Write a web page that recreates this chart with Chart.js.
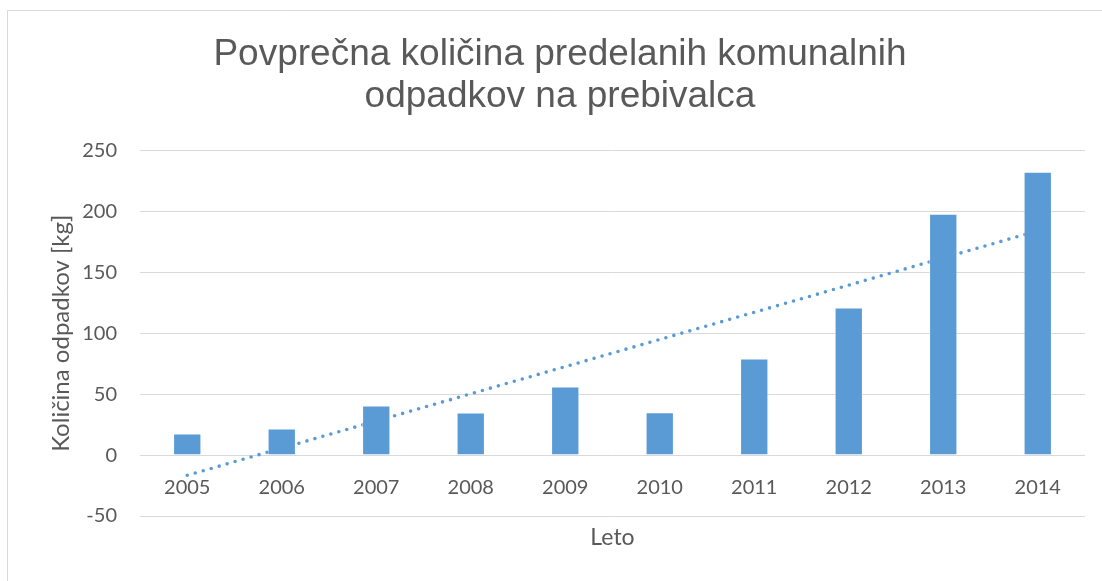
<!DOCTYPE html>
<html>
<head>
<meta charset="utf-8">
<script src="https://cdn.jsdelivr.net/npm/chart.js@4"></script>
<style>
  body { margin: 0; background: #fff; }
</style>
</head>
<body>
<canvas id="wasteChart" width="1102" height="581"></canvas>
<script>
// data
const years = ["2005", "2006", "2007", "2008", "2009", "2010", "2011", "2012", "2013", "2014"];
const wastePerCapita = [17.8, 21.9, 40.7, 35.0, 56.3, 35.2, 79.3, 121.1, 198.1, 232.5];
const trendValues = [-16.6, 5.7, 28.0, 50.3, 72.6, 94.9, 117.2, 139.5, 161.8, 184.1];
const yMin = -50;
const yMax = 250;
const yStep = 50;

const textColor = "#595959";
const barColor = "#5B9BD5";

// light frame round the chart, like the office chart border
const framePlugin = {
  id: "frame",
  beforeDraw(chart) {
    const c = chart.ctx;
    c.save();
    c.fillStyle = "#fff";
    c.fillRect(0, 0, chart.width, chart.height);
    c.strokeStyle = "#d9d9d9";
    c.lineWidth = 1;
    c.beginPath();
    c.moveTo(7.5, chart.height);
    c.lineTo(7.5, 10.5);
    c.lineTo(chart.width, 10.5);
    c.stroke();
    c.restore();
  },
};

window.onload = function () {
  const ctx = document.getElementById("wasteChart").getContext("2d");
  new Chart(ctx, {
    type: "bar",
    data: {
      labels: years,
      datasets: [
        {
          label: "Količina",
          data: wastePerCapita,
          backgroundColor: barColor,
          borderColor: "rgba(255,255,255,0.45)",
          borderWidth: 1,
          categoryPercentage: 1,
          barPercentage: 0.3,
          order: 1,
        },
        {
          type: "line",
          label: "Trend",
          data: trendValues,
          borderColor: barColor,
          borderWidth: 3.6,
          borderDash: [0, 8.3],
          borderCapStyle: "round",
          pointRadius: 0,
          fill: false,
          tension: 0,
          order: 2,
        },
      ],
    },
    options: {
      responsive: false,
      animation: false,
      layout: { padding: { left: 35, right: 17, top: 0, bottom: 0 } },
      plugins: {
        legend: { display: false },
        tooltip: { enabled: false },
        title: {
          display: true,
          text: ["Povprečna količina predelanih komunalnih", "odpadkov na prebivalca"],
          color: textColor,
          font: { family: "'Liberation Sans', Arial, sans-serif", size: 37, weight: "normal", lineHeight: "42px" },
          padding: { top: 33.5, bottom: 33 },
        },
      },
      scales: {
        x: {
          position: { y: 0 },
          grid: { display: false, drawTicks: false },
          border: { display: false },
          ticks: {
            color: textColor,
            padding: 20,
            font: { family: "Lato, 'Open Sans', sans-serif", size: 20 },
          },
        },
        x2: {
          type: "category",
          position: "bottom",
          labels: years,
          grid: { display: false, drawTicks: false },
          border: { display: false },
          ticks: { display: false },
          title: {
            display: true,
            text: "Leto",
            color: textColor,
            font: { family: "Lato, 'Open Sans', sans-serif", size: 23 },
            padding: { top: 8.2, bottom: 29.2 },
          },
        },
        y: {
          min: yMin,
          max: yMax,
          afterFit(scale) {
            scale.width = 105;
          },
          grid: { color: "#d9d9d9", lineWidth: 1, drawTicks: false },
          border: { display: false },
          ticks: {
            stepSize: yStep,
            color: textColor,
            padding: 23,
            font: { family: "Lato, 'Open Sans', sans-serif", size: 20 },
          },
          title: {
            display: true,
            text: "Količina odpadkov [kg]",
            color: textColor,
            font: { family: "Lato, 'Open Sans', sans-serif", size: 24 },
            padding: { top: 11.6 },
          },
        },
      },
    },
    plugins: [framePlugin],
  });
};
</script>
</body>
</html>
